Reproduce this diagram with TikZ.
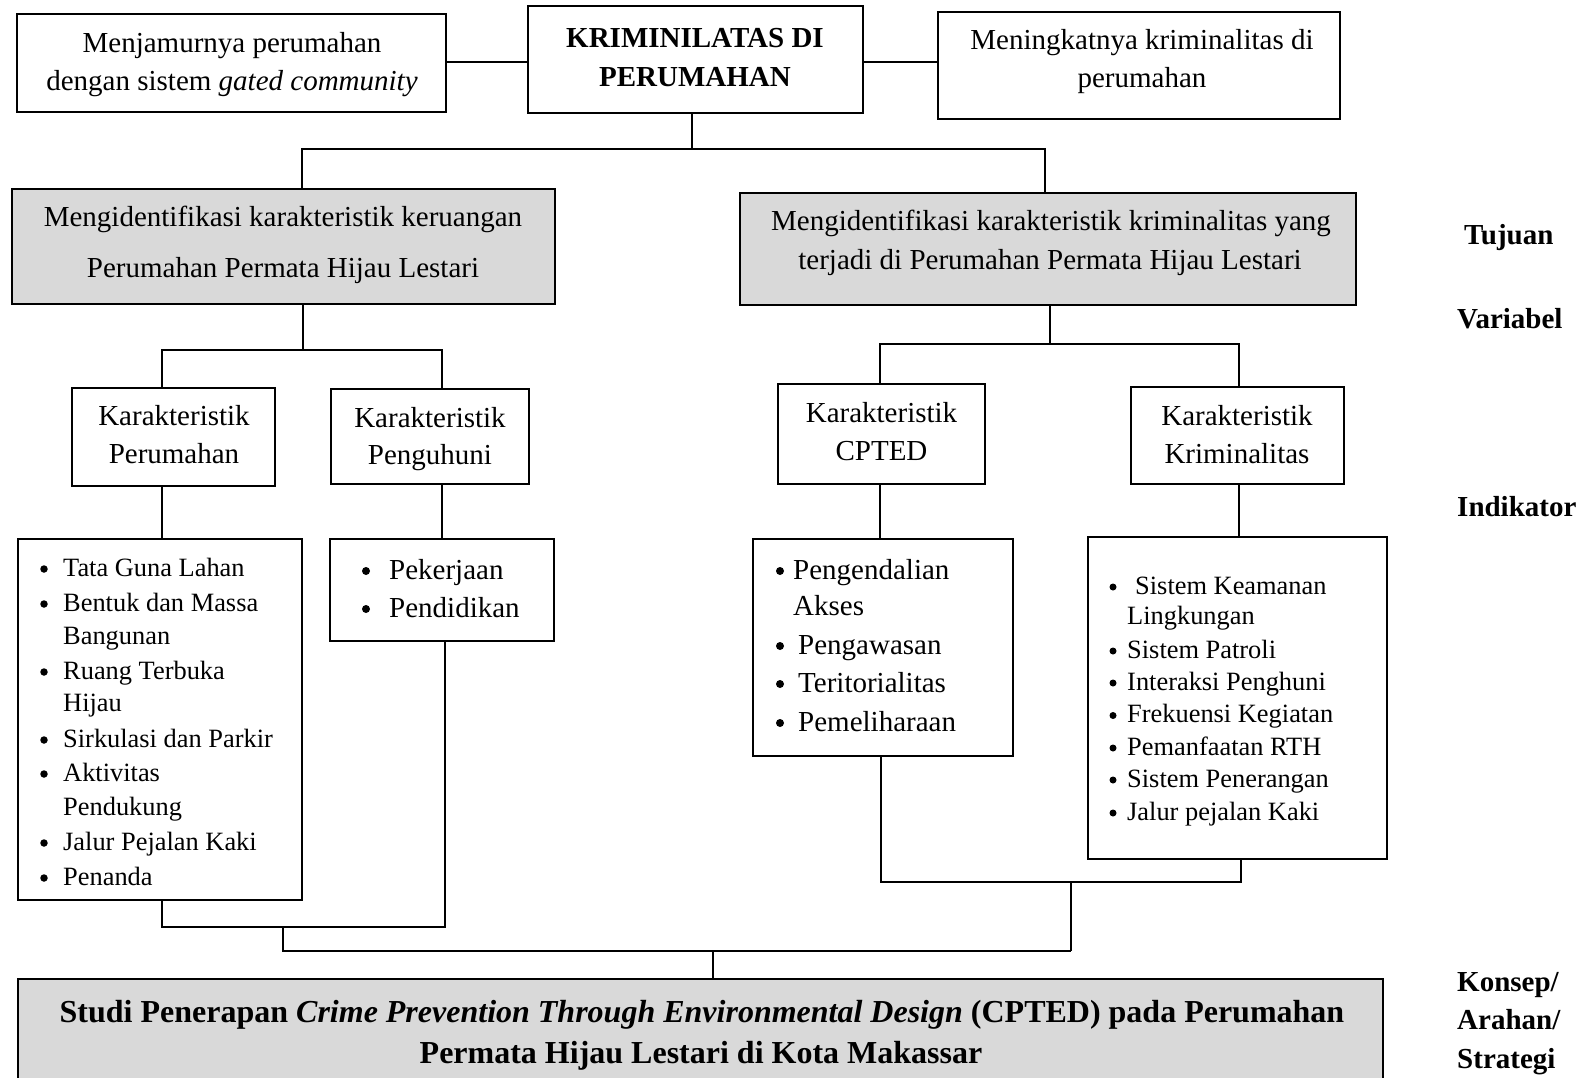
\documentclass[tikz,border=0pt]{standalone}
\usepackage{fontspec}
\setmainfont{Liberation Serif}
\newcommand\fsA{\fontsize{29}{37}\selectfont}
\newcommand\fsB{\fontsize{26.4}{33}\selectfont}
\newcommand\fsC{\fontsize{32}{40}\selectfont}
\tikzset{
  box/.style={draw, line width=2pt, inner sep=0pt, outer sep=0pt, rectangle},
  gbox/.style={box, fill=black!15},
  ln/.style={line width=2pt},
  ct/.style={anchor=base, inner sep=0pt, font=\fsA},
  lt/.style={anchor=base west, inner sep=0pt, font=\fsA},
  dot/.style={circle, fill=black, inner sep=0pt, outer sep=0pt},
}
% name, font, bullet x, text x, baseline y, text, dot size, dot rise
\newcommand\bitem[8]{%
  \node[dot, minimum size=#7] (#1b) at (#3,#5-#8) {};
  \node[anchor=base west, inner sep=0pt, font=#2] (#1) at (#4,#5) {#6};}
\begin{document}
\begin{tikzpicture}[x=1pt,y=-1pt]
\useasboundingbox (0,0) rectangle (1587,1077);
% boxes
\node[box, minimum width=429pt, minimum height=98pt] (tl) at (231.5,63) {};
\node[box, minimum width=335pt, minimum height=107pt] (top) at (695.5,59.5) {};
\node[box, minimum width=402pt, minimum height=107pt] (tr) at (1139,65.5) {};
\node[gbox, minimum width=543pt, minimum height=115pt] (lg) at (283.5,246.5) {};
\node[gbox, minimum width=616pt, minimum height=112pt] (rg) at (1048,249) {};
\node[box, minimum width=203pt, minimum height=98pt] (kp) at (173.5,437) {};
\node[box, minimum width=198pt, minimum height=95pt] (kg) at (430,436.5) {};
\node[box, minimum width=207pt, minimum height=100pt] (cp) at (881.5,434) {};
\node[box, minimum width=213pt, minimum height=97pt] (kr) at (1237.5,435.5) {};
\node[box, minimum width=284pt, minimum height=361pt] (lp) at (160,719.5) {};
\node[box, minimum width=224pt, minimum height=102pt] (lq) at (442,590) {};
\node[box, minimum width=260pt, minimum height=217pt] (cl) at (883,647.5) {};
\node[box, minimum width=299pt, minimum height=322pt] (kl) at (1237.5,698) {};
\node[gbox, minimum width=1365pt, minimum height=102pt] (bot) at (700.5,1030) {};
% connectors
\coordinate (yTop) at (0,62);
\draw[ln] (tl.east |- yTop) -- (top.west |- yTop);
\draw[ln] (top.east |- yTop) -- (tr.west |- yTop);
\coordinate (jM) at (692,149);
\coordinate (jA) at (302,149);
\coordinate (jB) at (1045,149);
\draw[ln] (jM |- top.south) -- (jM);
\draw[ln] (jA |- lg.north) -- (jA) -- (jB) -- (jB |- rg.north);
\coordinate (jC) at (303,350);
\coordinate (jD) at (162,350);
\coordinate (jE) at (442,350);
\draw[ln] (jC |- lg.south) -- (jC);
\draw[ln] (jD |- kp.north) -- (jD) -- (jE) -- (jE |- kg.north);
\draw[ln] (jD |- kp.south) -- (jD |- lp.north);
\draw[ln] (jE |- kg.south) -- (jE |- lq.north);
\coordinate (jF) at (162,927);
\coordinate (jG) at (445,927);
\draw[ln] (jF |- lp.south) -- (jF) -- (jG) -- (jG |- lq.south);
\coordinate (jH) at (283,951);
\coordinate (jI) at (1071,951);
\coordinate (jJ) at (713,951);
\draw[ln] (jH |- jF) -- (jH) -- (jI);
\draw[ln] (jJ) -- (jJ |- bot.north);
\coordinate (jK) at (1050,344);
\coordinate (jL) at (880,344);
\coordinate (jN) at (1239,344);
\draw[ln] (jK |- rg.south) -- (jK);
\draw[ln] (jL |- cp.north) -- (jL) -- (jN) -- (jN |- kr.north);
\draw[ln] (jL |- cp.south) -- (jL |- cl.north);
\draw[ln] (jN |- kr.south) -- (jN |- kl.north);
\coordinate (jO) at (881,882);
\coordinate (jP) at (1241,882);
\draw[ln] (jO |- cl.south) -- (jO) -- (jP) -- (jP |- kl.south);
\draw[ln] (jI |- jO) -- (jI);
% texts
\node[ct] (t1) at (232,52.5) {Menjamurnya perumahan};
\node[ct] (t2) at (232,90) {dengan sistem \textit{gated community}};
\node[ct] (t3) at (695,47.5) {\textbf{KRIMINILATAS DI}};
\node[ct] (t4) at (695,86) {\textbf{PERUMAHAN}};
\node[ct] (t5) at (1142,49.5) {Meningkatnya kriminalitas di};
\node[ct] (t6) at (1142,87) {perumahan};
\node[ct] (t7) at (283,226.5) {Mengidentifikasi karakteristik keruangan};
\node[ct] (t8) at (283,277) {Perumahan Permata Hijau Lestari};
\node[ct] (t9) at (1051,230.6) {Mengidentifikasi karakteristik kriminalitas yang};
\node[ct] (t10) at (1050,269) {terjadi di Perumahan Permata Hijau Lestari};
\node[ct] (t11) at (174,425) {Karakteristik};
\node[ct] (t12) at (174,463) {Perumahan};
\node[ct] (t13) at (430,427) {Karakteristik};
\node[ct] (t14) at (430,464) {Penguhuni};
\node[ct] (t15) at (881.5,422) {Karakteristik};
\node[ct] (t16) at (881.5,460) {CPTED};
\node[ct] (t17) at (1237,425) {Karakteristik};
\node[ct] (t18) at (1237,463) {Kriminalitas};
% left list
\bitem{a1}{\fsB}{44}{63}{576}{Tata Guna Lahan}{7.5pt}{7}
\bitem{a2}{\fsB}{44}{63}{611}{Bentuk dan Massa}{7.5pt}{7}
\node[anchor=base west, inner sep=0pt, font=\fsB] (a2c) at (63,644) {Bangunan};
\bitem{a3}{\fsB}{44}{63}{679}{Ruang Terbuka}{7.5pt}{7}
\node[anchor=base west, inner sep=0pt, font=\fsB] (a3c) at (63,711) {Hijau};
\bitem{a4}{\fsB}{44}{63}{747}{Sirkulasi dan Parkir}{7.5pt}{7}
\bitem{a5}{\fsB}{44}{63}{781}{Aktivitas}{7.5pt}{7}
\node[anchor=base west, inner sep=0pt, font=\fsB] (a5c) at (63,815) {Pendukung};
\bitem{a6}{\fsB}{44}{63}{850}{Jalur Pejalan Kaki}{7.5pt}{7}
\bitem{a7}{\fsB}{44}{63}{885}{Penanda}{7.5pt}{7}
% penghuni list
\bitem{b1}{\fsA}{366}{389}{579}{Pekerjaan}{8pt}{8}
\bitem{b2}{\fsA}{366}{389}{617}{Pendidikan}{8pt}{8}
% CPTED list
\bitem{c1}{\fsA}{780}{793}{579}{Pengendalian}{8pt}{8}
\node[lt] (c1c) at (793,615) {Akses};
\bitem{c2}{\fsA}{780}{798}{654}{Pengawasan}{8pt}{8}
\bitem{c3}{\fsA}{780}{798}{692}{Teritorialitas}{8pt}{8}
\bitem{c4}{\fsA}{780}{798}{731}{Pemeliharaan}{8pt}{8}
% kriminalitas list
\bitem{d1}{\fsB}{1113}{1135}{594}{Sistem Keamanan}{7pt}{7}
\node[anchor=base west, inner sep=0pt, font=\fsB] (d1c) at (1127,624) {Lingkungan};
\bitem{d2}{\fsB}{1113}{1127}{658}{Sistem Patroli}{7pt}{7}
\bitem{d3}{\fsB}{1113}{1127}{690}{Interaksi Penghuni}{7pt}{7}
\bitem{d4}{\fsB}{1113}{1127}{722.5}{Frekuensi Kegiatan}{7pt}{7}
\bitem{d5}{\fsB}{1113}{1127}{755}{Pemanfaatan RTH}{7pt}{7}
\bitem{d6}{\fsB}{1113}{1127}{787}{Sistem Penerangan}{7pt}{7}
\bitem{d7}{\fsB}{1113}{1127}{820}{Jalur pejalan Kaki}{7pt}{7}
% side labels
\node[lt] (s1) at (1464,244) {\textbf{Tujuan}};
\node[lt] (s2) at (1457,328) {\textbf{Variabel}};
\node[lt] (s3) at (1457,516) {\textbf{Indikator}};
\node[lt] (s4) at (1457,991) {\textbf{Konsep/}};
\node[lt] (s5) at (1457,1029) {\textbf{Arahan/}};
\node[lt] (s6) at (1457,1068) {\textbf{Strategi}};
% bottom text
\node[ct, font=\fsC] (b1t) at (702,1022) {\textbf{Studi Penerapan \textit{Crime Prevention Through Environmental Design} (CPTED) pada Perumahan}};
\node[ct, font=\fsC] (b2t) at (701,1063) {\textbf{Permata Hijau Lestari di Kota Makassar}};
\end{tikzpicture}
\end{document}
